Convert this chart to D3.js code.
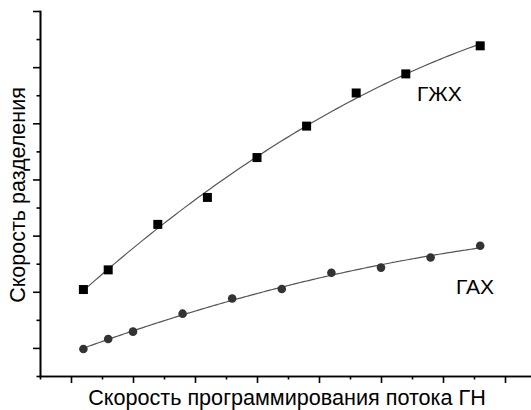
<!DOCTYPE html>
<html>
<head>
<meta charset="utf-8">
<script src="https://cdn.jsdelivr.net/npm/d3@7"></script>
<style>
  html, body { margin: 0; padding: 0; background: #fff; }
  svg { display: block; }
  text { font-family: "Liberation Sans", Arial, sans-serif; fill: #000; }
</style>
</head>
<body>
<svg id="chart" width="531" height="410"></svg>
<script>
// Flow programming rate (arbitrary units) and separation rate for each method
const gzhxRate  = [1, 3, 7, 11, 15, 19, 23, 27, 33];
const gzhxSpeed = [1.04, 1.39, 2.20, 2.68, 3.39, 3.95, 4.54, 4.88, 5.38];
const gahRate   = [1, 3, 5, 9, 13, 17, 21, 25, 29, 33];
const gahSpeed  = [-0.02, 0.16, 0.29, 0.61, 0.88, 1.05, 1.34, 1.43, 1.61, 1.82];

const seriesNames = ["ГЖХ", "ГАХ"];
const xTitle = "Скорость программирования потока ГН";
const yTitle = "Скорость разделения";

const xMajor = [0, 5, 10, 15, 20, 25, 30, 35];
const xMinor = [-2.5, 2.5, 7.5, 12.5, 17.5, 22.5, 27.5, 32.5, 37.5];
const yMajor = [0, 1, 2, 3, 4, 5, 6];
const yMinor = [-0.5, 0.5, 1.5, 2.5, 3.5, 4.5, 5.5];

const svg = d3.select("#chart");

const x = d3.scaleLinear().domain([-2.5, 37.5]).range([40, 536]);
const y = d3.scaleLinear().domain([-0.5, 6]).range([376, 11]);

// Least-squares quadratic fit, returned as a function
function quadFit(xs, ys) {
  const n = xs.length;
  let s = [0, 0, 0, 0, 0], t = [0, 0, 0];
  for (let i = 0; i < n; i++) {
    const xi = xs[i], yi = ys[i];
    for (let k = 0; k <= 4; k++) s[k] += Math.pow(xi, k);
    for (let k = 0; k <= 2; k++) t[k] += Math.pow(xi, k) * yi;
  }
  const A = [[s[0], s[1], s[2], t[0]], [s[1], s[2], s[3], t[1]], [s[2], s[3], s[4], t[2]]];
  for (let c = 0; c < 3; c++) {
    let p = c;
    for (let r = c + 1; r < 3; r++) if (Math.abs(A[r][c]) > Math.abs(A[p][c])) p = r;
    [A[c], A[p]] = [A[p], A[c]];
    for (let r = 0; r < 3; r++) {
      if (r === c) continue;
      const f = A[r][c] / A[c][c];
      for (let k = c; k < 4; k++) A[r][k] -= f * A[c][k];
    }
  }
  const a = A[0][3] / A[0][0], b = A[1][3] / A[1][1], cc = A[2][3] / A[2][2];
  return v => a + b * v + cc * v * v;
}

function drawFit(xs, ys) {
  const f = quadFit(xs, ys);
  const lo = d3.min(xs), hi = d3.max(xs);
  const pts = d3.range(0, 101).map(i => {
    const v = lo + (hi - lo) * i / 100;
    return [v, f(v)];
  });
  svg.append("path")
    .datum(pts)
    .attr("fill", "none")
    .attr("stroke", "#555")
    .attr("stroke-width", 1.2)
    .attr("d", d3.line().x(d => x(d[0])).y(d => y(d[1])).curve(d3.curveMonotoneX));
}

drawFit(gzhxRate, gzhxSpeed);
drawFit(gahRate, gahSpeed);

// Axes: major and minor ticks, no tick labels
function styleAxis(g) {
  g.selectAll("path, line").attr("stroke", "#000").attr("stroke-width", 1.6);
}
svg.append("g").attr("transform", `translate(0,${y(-0.5)})`)
  .call(d3.axisBottom(x).tickValues(xMinor).tickSize(3.5).tickSizeOuter(0).tickFormat(""))
  .call(styleAxis);
svg.append("g").attr("transform", `translate(0,${y(-0.5)})`)
  .call(d3.axisBottom(x).tickValues(xMajor).tickSize(7).tickSizeOuter(0).tickFormat(""))
  .call(styleAxis);
svg.append("g").attr("transform", `translate(${x(-2.5)},0)`)
  .call(d3.axisLeft(y).tickValues(yMinor).tickSize(3.5).tickSizeOuter(0).tickFormat(""))
  .call(styleAxis);
svg.append("g").attr("transform", `translate(${x(-2.5)},0)`)
  .call(d3.axisLeft(y).tickValues(yMajor).tickSize(7).tickSizeOuter(0).tickFormat(""))
  .call(styleAxis);
svg.selectAll(".domain").attr("stroke-linecap", "square");

// Markers
const sq = 9;
svg.append("g").selectAll("rect")
  .data(d3.zip(gzhxRate, gzhxSpeed))
  .join("rect")
  .attr("x", d => x(d[0]) - sq / 2)
  .attr("y", d => y(d[1]) - sq / 2)
  .attr("width", sq)
  .attr("height", sq)
  .attr("fill", "#000");

svg.append("g").selectAll("circle")
  .data(d3.zip(gahRate, gahSpeed))
  .join("circle")
  .attr("cx", d => x(d[0]))
  .attr("cy", d => y(d[1]))
  .attr("r", 4.3)
  .attr("fill", "#333");

// Series labels
svg.append("text").attr("x", 417).attr("y", 101).attr("font-size", 21).text(seriesNames[0]);
svg.append("text").attr("x", 456).attr("y", 294).attr("font-size", 21).text(seriesNames[1]);

// Axis titles
svg.append("text")
  .attr("x", 287).attr("y", 404.5)
  .attr("text-anchor", "middle")
  .attr("font-size", 21.6)
  .text(xTitle);
svg.append("text")
  .attr("transform", "translate(25,195) rotate(-90)")
  .attr("text-anchor", "middle")
  .attr("font-size", 21.5)
  .text(yTitle);
</script>
</body>
</html>
